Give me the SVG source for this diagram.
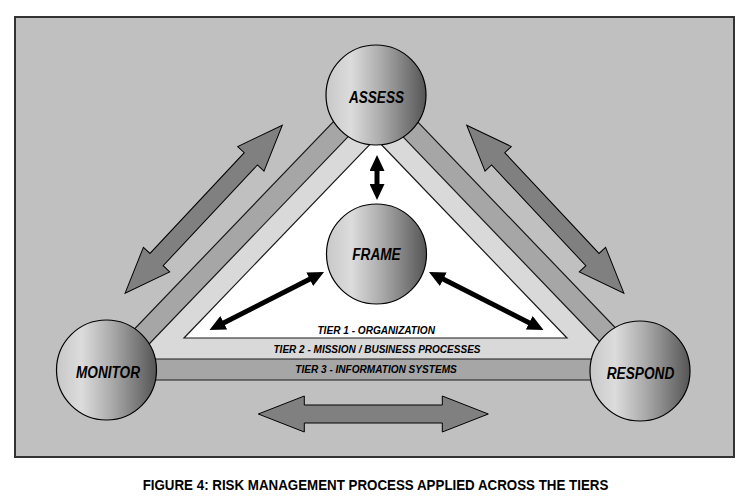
<svg xmlns="http://www.w3.org/2000/svg" width="748" height="502" viewBox="0 0 748 502">
  <defs>
    <linearGradient id="ball" x1="0" y1="0" x2="1" y2="0">
      <stop offset="0" stop-color="#c8c8c8"/>
      <stop offset="0.25" stop-color="#dcdcdc"/>
      <stop offset="0.55" stop-color="#ababab"/>
      <stop offset="1" stop-color="#555555"/>
    </linearGradient>
    <path id="bigArrow" d="M-115,0 L-69,-18 L-69,-9 L69,-9 L69,-18 L115,0 L69,18 L69,9 L-69,9 L-69,18 Z"/>
    <marker id="head" viewBox="0 0 16 15" markerWidth="16" markerHeight="15" refX="8" refY="7.5" markerUnits="userSpaceOnUse" orient="auto-start-reverse">
      <path d="M0,0 L16,7.5 L0,15 Z" fill="#000"/>
    </marker>
  </defs>
  <style>
    .tier { stroke: #1a1a1a; stroke-width: 1.2; }
    .ball { fill: url(#ball); stroke: #000; stroke-width: 1.2; }
    .lbl { font-family: "Liberation Sans", Arial, sans-serif; font-weight: bold; font-style: italic; font-size: 16px; fill: #000; text-anchor: middle; }
    .tl { font-family: "Liberation Sans", Arial, sans-serif; font-weight: bold; font-style: italic; font-size: 10px; fill: #000; text-anchor: middle; }
    .big { fill: #808080; stroke: #000; stroke-width: 1; }
    .blk { stroke: #000; stroke-width: 5; fill: none; marker-start: url(#head); marker-end: url(#head); }
    .cap { font-family: "Liberation Sans", Arial, sans-serif; font-weight: bold; font-size: 15px; fill: #000; text-anchor: middle; }
  </style>
  <rect x="0" y="0" width="748" height="502" fill="#fff"/>
  <rect x="15" y="17" width="719" height="440" fill="#c0c0c0" stroke="#333" stroke-width="2"/>

  <g id="tier3">
    <polygon class="tier" fill="#a6a6a6" points="375.5,77.9 665.5,380 85.5,380"/>
    <text class="tl" x="376" y="373.3" textLength="161.5" lengthAdjust="spacingAndGlyphs">TIER 3 - INFORMATION SYSTEMS</text>
  </g>
  <g id="tier2">
    <polygon class="tier" fill="#d9d9d9" points="375.5,108.2 616.3,359 134.7,359"/>
    <text class="tl" x="377" y="353.3" textLength="207" lengthAdjust="spacingAndGlyphs">TIER 2 - MISSION / BUSINESS PROCESSES</text>
  </g>
  <g id="tier1">
    <polygon class="tier" fill="#ffffff" points="375.5,138.5 567,338 184,338"/>
    <text class="tl" x="376.2" y="334" textLength="117.5" lengthAdjust="spacingAndGlyphs">TIER 1 - ORGANIZATION</text>
  </g>

  <g id="connectors">
    <use href="#bigArrow" class="big" transform="translate(203.7,209.2) rotate(-46.9)"/>
    <use href="#bigArrow" class="big" transform="translate(545.3,209.2) rotate(46.9)"/>
    <use href="#bigArrow" class="big" transform="translate(373.3,414)"/>
    <line class="blk" x1="377" y1="163" x2="377" y2="192"/>
    <line class="blk" x1="216.6" y1="326.4" x2="316.9" y2="275.6"/>
    <line class="blk" x1="436.1" y1="275.6" x2="536.4" y2="326.4"/>
  </g>

  <g id="assess">
    <circle class="ball" cx="376" cy="95" r="50"/>
    <text class="lbl" x="376.5" y="102.5" textLength="55" lengthAdjust="spacingAndGlyphs">ASSESS</text>
  </g>
  <g id="frame">
    <circle class="ball" cx="376.5" cy="254" r="50"/>
    <text class="lbl" x="376.5" y="260" textLength="48.4" lengthAdjust="spacingAndGlyphs">FRAME</text>
  </g>
  <g id="monitor">
    <circle class="ball" cx="106.5" cy="370" r="50"/>
    <text class="lbl" x="108" y="378" textLength="64" lengthAdjust="spacingAndGlyphs">MONITOR</text>
  </g>
  <g id="respond">
    <circle class="ball" cx="640" cy="371" r="50"/>
    <text class="lbl" x="640.5" y="379" textLength="67.6" lengthAdjust="spacingAndGlyphs">RESPOND</text>
  </g>

  <text class="cap" x="375.5" y="490" textLength="465.7" lengthAdjust="spacingAndGlyphs">FIGURE 4: RISK MANAGEMENT PROCESS APPLIED ACROSS THE TIERS</text>
</svg>
